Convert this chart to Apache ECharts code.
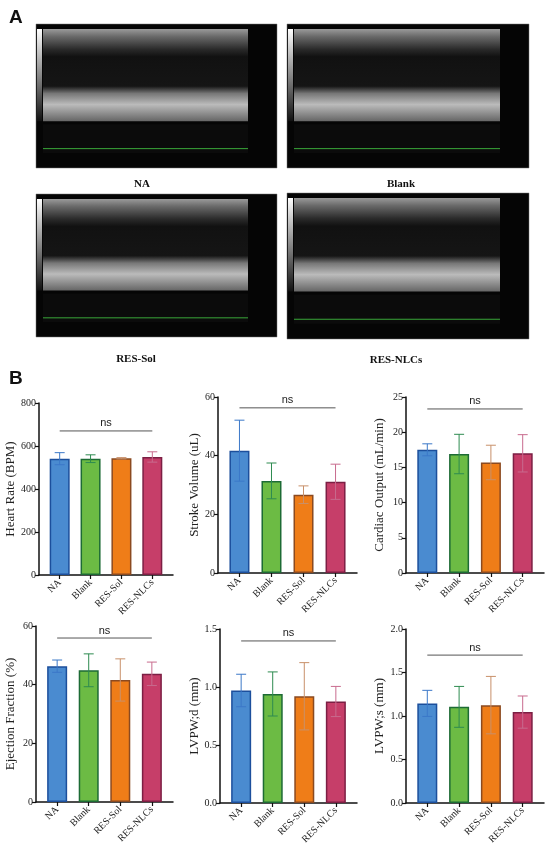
<!DOCTYPE html>
<html>
<head>
<meta charset="utf-8">
<script src="https://cdn.jsdelivr.net/npm/echarts@6/dist/echarts.min.js"></script>
<style>
  html, body { margin: 0; padding: 0; background: #fff; }
  #main { width: 550px; height: 852px; }
</style>
</head>
<body>
<div id="main"></div>
<script>
// groups on every bar chart
var groups = ['NA', 'Blank', 'RES-Sol', 'RES-NLCs'];

// mean and SD
var heartRate = [541, 541, 543, 549];
var heartRateSd = [28, 18, 3, 24];
var strokeVolume = [41.7, 31.4, 26.7, 31.1];
var strokeVolumeSd = [10.4, 6.1, 3.0, 6.0];
var cardiacOutput = [17.5, 16.9, 15.7, 17.0];
var cardiacOutputSd = [0.85, 2.8, 2.45, 2.65];
var ejection = [46.3, 44.9, 41.6, 43.7];
var ejectionSd = [2.1, 5.6, 7.2, 4.0];
var lvpwD = [0.97, 0.94, 0.92, 0.875];
var lvpwDSd = [0.14, 0.19, 0.29, 0.13];
var lvpwS = [1.145, 1.105, 1.125, 1.045];
var lvpwSSd = [0.15, 0.235, 0.33, 0.185];

// where the "ns" bar sits on each chart
var nsLevel = [670, 56.3, 23.3, 55.9, 1.397, 1.70];

// echo image labels
var echoLabels = ['NA', 'Blank', 'RES-Sol', 'RES-NLCs'];

var fillColors = ['#4a8bd0', '#6cbb44', '#ef7d18', '#c63e69'];
var borderColors = ['#1c4f9c', '#1d6b35', '#8b4a20', '#7c1f44'];
var errColors = ['#3b78c8', '#2e8b50', '#c8906a', '#c86b8e'];

var charts = [
    {name: 'Heart Rate (BPM)', mean: heartRate, sd: heartRateSd, max: 800, interval: 200, dec: 0,
        left: 39, top: 403, width: 134, height: 172, gap: 22},
    {name: 'Stroke Volume (uL)', mean: strokeVolume, sd: strokeVolumeSd, max: 60, interval: 20, dec: 0,
        left: 218, top: 397, width: 139, height: 176, gap: 16},
    {name: 'Cardiac Output (mL/min)', mean: cardiacOutput, sd: cardiacOutputSd, max: 25, interval: 5, dec: 0,
        left: 406, top: 397, width: 138, height: 176, gap: 20},
    {name: 'Ejection Fraction (%)', mean: ejection, sd: ejectionSd, max: 60, interval: 20, dec: 0,
        left: 36, top: 626, width: 137, height: 176, gap: 19},
    {name: 'LVPW;d (mm)', mean: lvpwD, sd: lvpwDSd, max: 1.5, interval: 0.5, dec: 1,
        left: 220, top: 629, width: 137, height: 174, gap: 18},
    {name: 'LVPW;s (mm)', mean: lvpwS, sd: lvpwSSd, max: 2.0, interval: 0.5, dec: 1,
        left: 406, top: 629, width: 138, height: 174, gap: 19.5}
];

var serif = '"Liberation Serif", "DejaVu Serif", serif';
var sans = '"Liberation Sans", Arial, sans-serif';

var option = {
    animation: false,
    grid: [], xAxis: [], yAxis: [], series: [],
    graphic: []
};

charts.forEach(function (c, i) {
    option.grid.push({left: c.left, top: c.top, width: c.width, height: c.height, containLabel: false});
    option.xAxis.push({
        type: 'value', gridIndex: i, min: -0.67, max: 3.67,
        splitLine: {show: false},
        axisLine: {show: true, onZero: false, lineStyle: {color: '#111', width: 1.5}},
        axisTick: {show: true, length: 4, lineStyle: {color: '#111', width: 1.2}, customValues: [0, 1, 2, 3]},
        axisLabel: {
            customValues: [0, 1, 2, 3], rotate: 45, margin: 6,
            fontFamily: serif, fontSize: 10, color: '#222',
            formatter: function (v) { return groups[Math.round(v)]; }
        }
    });
    option.yAxis.push({
        type: 'value', gridIndex: i, min: 0, max: c.max, interval: c.interval,
        name: c.name, nameLocation: 'middle', nameGap: c.gap, nameRotate: 90,
        nameTextStyle: {fontFamily: serif, fontSize: 13, color: '#222'},
        splitLine: {show: false},
        axisLine: {show: true, onZero: false, lineStyle: {color: '#111', width: 1.5}},
        axisTick: {show: true, length: 4, lineStyle: {color: '#111', width: 1.2}},
        axisLabel: {
            margin: 3, fontFamily: serif, fontSize: 10, color: '#222',
            formatter: function (v) { return v.toFixed(c.dec); }
        }
    });
    // bars
    option.series.push({
        type: 'bar', xAxisIndex: i, yAxisIndex: i, barWidth: 20,
        data: c.mean.map(function (m, k) {
            return {value: [k, m], itemStyle: {color: fillColors[k], borderColor: borderColors[k], borderWidth: 1.5}};
        })
    });
    // error bars (mean +- sd)
    option.series.push({
        type: 'custom', xAxisIndex: i, yAxisIndex: i, z: 5,
        data: c.mean.map(function (m, k) { return [k, m - c.sd[k], m + c.sd[k]]; }),
        renderItem: function (params, api) {
            var k = api.value(0);
            var lo = api.coord([k, api.value(1)]);
            var hi = api.coord([k, api.value(2)]);
            var st = {stroke: errColors[k], lineWidth: 1};
            return {type: 'group', children: [
                {type: 'line', shape: {x1: hi[0], y1: hi[1], x2: lo[0], y2: lo[1]}, style: st},
                {type: 'line', shape: {x1: hi[0] - 5, y1: hi[1], x2: hi[0] + 5, y2: hi[1]}, style: st},
                {type: 'line', shape: {x1: lo[0] - 5, y1: lo[1], x2: lo[0] + 5, y2: lo[1]}, style: st}
            ]};
        }
    });
    // "ns" bracket
    option.series.push({
        type: 'custom', xAxisIndex: i, yAxisIndex: i, z: 5,
        data: [[0, 3, nsLevel[i]]],
        renderItem: function (params, api) {
            var a = api.coord([api.value(0), api.value(2)]);
            var b = api.coord([api.value(1), api.value(2)]);
            return {type: 'group', children: [
                {type: 'line', shape: {x1: a[0], y1: a[1], x2: b[0], y2: b[1]}, style: {stroke: '#555', lineWidth: 1}},
                {type: 'text', x: (a[0] + b[0]) / 2, y: a[1] - 2,
                    style: {text: 'ns', fill: '#222', font: '11px ' + sans, textAlign: 'center', textVerticalAlign: 'bottom'}}
            ]};
        }
    });
});

// panel A: the echo frames only (images themselves are not data)
var frames = [
    {x: 36, y: 24, w: 241, h: 144},
    {x: 287, y: 24, w: 242, h: 144},
    {x: 36, y: 194, w: 241, h: 143},
    {x: 287, y: 193, w: 242, h: 146}
];
var labelPos = [[142, 184], [401, 184], [136, 359], [396, 360]];

frames.forEach(function (f, i) {
    var ix = f.x + 7, iy = f.y + 5, iw = f.w - 36, ih = f.h * 0.64;
    option.graphic.push(
        {type: 'rect', shape: {x: f.x, y: f.y, width: f.w, height: f.h}, style: {fill: '#050505', stroke: '#777', lineWidth: 0.5}},
        // grey scale bar on the left
        {type: 'rect', shape: {x: f.x + 1, y: iy, width: 5, height: ih},
            style: {fill: new echarts.graphic.LinearGradient(0, 0, 0, 1, [{offset: 0, color: '#fff'}, {offset: 1, color: '#111'}])}},
        // tissue bands
        {type: 'rect', shape: {x: ix, y: iy, width: iw, height: ih},
            style: {fill: new echarts.graphic.LinearGradient(0, 0, 0, 1, [
                {offset: 0, color: '#9a9a9a'}, {offset: 0.08, color: '#6a6a6a'}, {offset: 0.22, color: '#2a2a2a'},
                {offset: 0.3, color: '#111'}, {offset: 0.62, color: '#151515'}, {offset: 0.7, color: '#777'},
                {offset: 0.82, color: '#bbb'}, {offset: 1, color: '#666'}])}},
        // ecg strip
        {type: 'rect', shape: {x: ix, y: iy + ih + 3, width: iw, height: f.h * 0.2}, style: {fill: '#0b0b0b'}},
        {type: 'line', shape: {x1: ix, y1: iy + ih + 3 + f.h * 0.17, x2: ix + iw, y2: iy + ih + 3 + f.h * 0.17},
            style: {stroke: '#3aa83a', lineWidth: 1}},
        {type: 'text', x: labelPos[i][0], y: labelPos[i][1],
            style: {text: echoLabels[i], font: 'bold 11px ' + serif, fill: '#111', textAlign: 'center', textVerticalAlign: 'middle'}}
    );
});

option.graphic.push(
    {type: 'text', x: 9, y: 8, style: {text: 'A', font: 'bold 19px ' + sans, fill: '#111'}},
    {type: 'text', x: 9, y: 369, style: {text: 'B', font: 'bold 19px ' + sans, fill: '#111'}}
);

var myChart = echarts.init(document.getElementById('main'));
myChart.setOption(option);
</script>
</body>
</html>
